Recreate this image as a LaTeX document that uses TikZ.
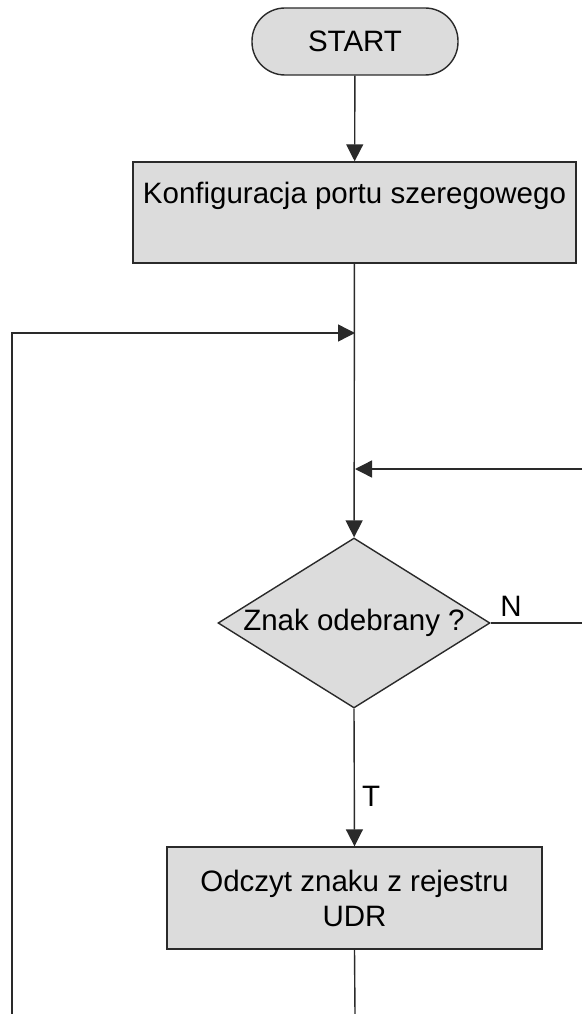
\documentclass[tikz,border=0pt]{standalone}
\usepackage{fontspec}
\setmainfont{Liberation Sans}
\usetikzlibrary{arrows.meta,shapes.geometric}

\definecolor{boxfill}{HTML}{DCDCDC}
\definecolor{inkline}{HTML}{2A2A2A}

\begin{document}
\begin{tikzpicture}[
  x=1pt, y=-1pt,
  every node/.style={font=\fontsize{29.5pt}{35pt}\selectfont, text=black},
  flowline/.style={draw=inkline, line width=1.4pt},
  arr/.style={flowline, -{Triangle[length=17pt,width=17pt]}},
  shapebase/.style={draw=inkline, fill=boxfill, line width=1.4pt, inner sep=0pt},
  terminal/.style={shapebase, rectangle, rounded corners=33pt,
                   minimum width=206pt, minimum height=67pt},
  procbox/.style={shapebase, rectangle, align=center},
  decision/.style={shapebase, diamond, aspect=1.6,
                   minimum width=272pt, minimum height=170pt},
  branch/.style={inner sep=0pt}
]
\useasboundingbox (0,0) rectangle (582,1014);

% blocks
\node[terminal] (start) at (355,41.5) {START};
\node[procbox, minimum width=443pt, minimum height=101pt,
      text height=21pt, text depth=40pt] (cfg) at (354.5,212.5)
      {Konfiguracja portu szeregowego};
\node[decision] (dec) at (354,623) {Znak odebrany ?};
\node[procbox, minimum width=375pt, minimum height=102pt] (rd) at (354.5,898)
      {Odczyt znaku z rejestru\\UDR};

% junction points and loose ends of the loops
\coordinate (joinL) at (355,333);
\coordinate (joinR) at (355,469);
\coordinate (loopL) at (12,1014);
\coordinate (inR)   at (582,469);
\coordinate (outN)  at (582,623);
\coordinate (outB)  at (355,1014);

% main flow
\draw[arr] (start) -- (cfg);
\draw[arr] (cfg) -- (dec);
\draw[arr] (dec.south) -- (rd.north)
  node[branch, pos=0.635, anchor=west, xshift=7pt] (lblT) {T};
\draw[flowline] (rd.south) -- (outB);

% loop returns
\draw[arr] (loopL) |- (joinL);
\draw[arr] (inR) -- (joinR);
\draw[flowline] (dec.east) -- (outN)
  node[branch, pos=0, anchor=south west, xshift=9pt, yshift=6pt] (lblN) {N};
\end{tikzpicture}
\end{document}
